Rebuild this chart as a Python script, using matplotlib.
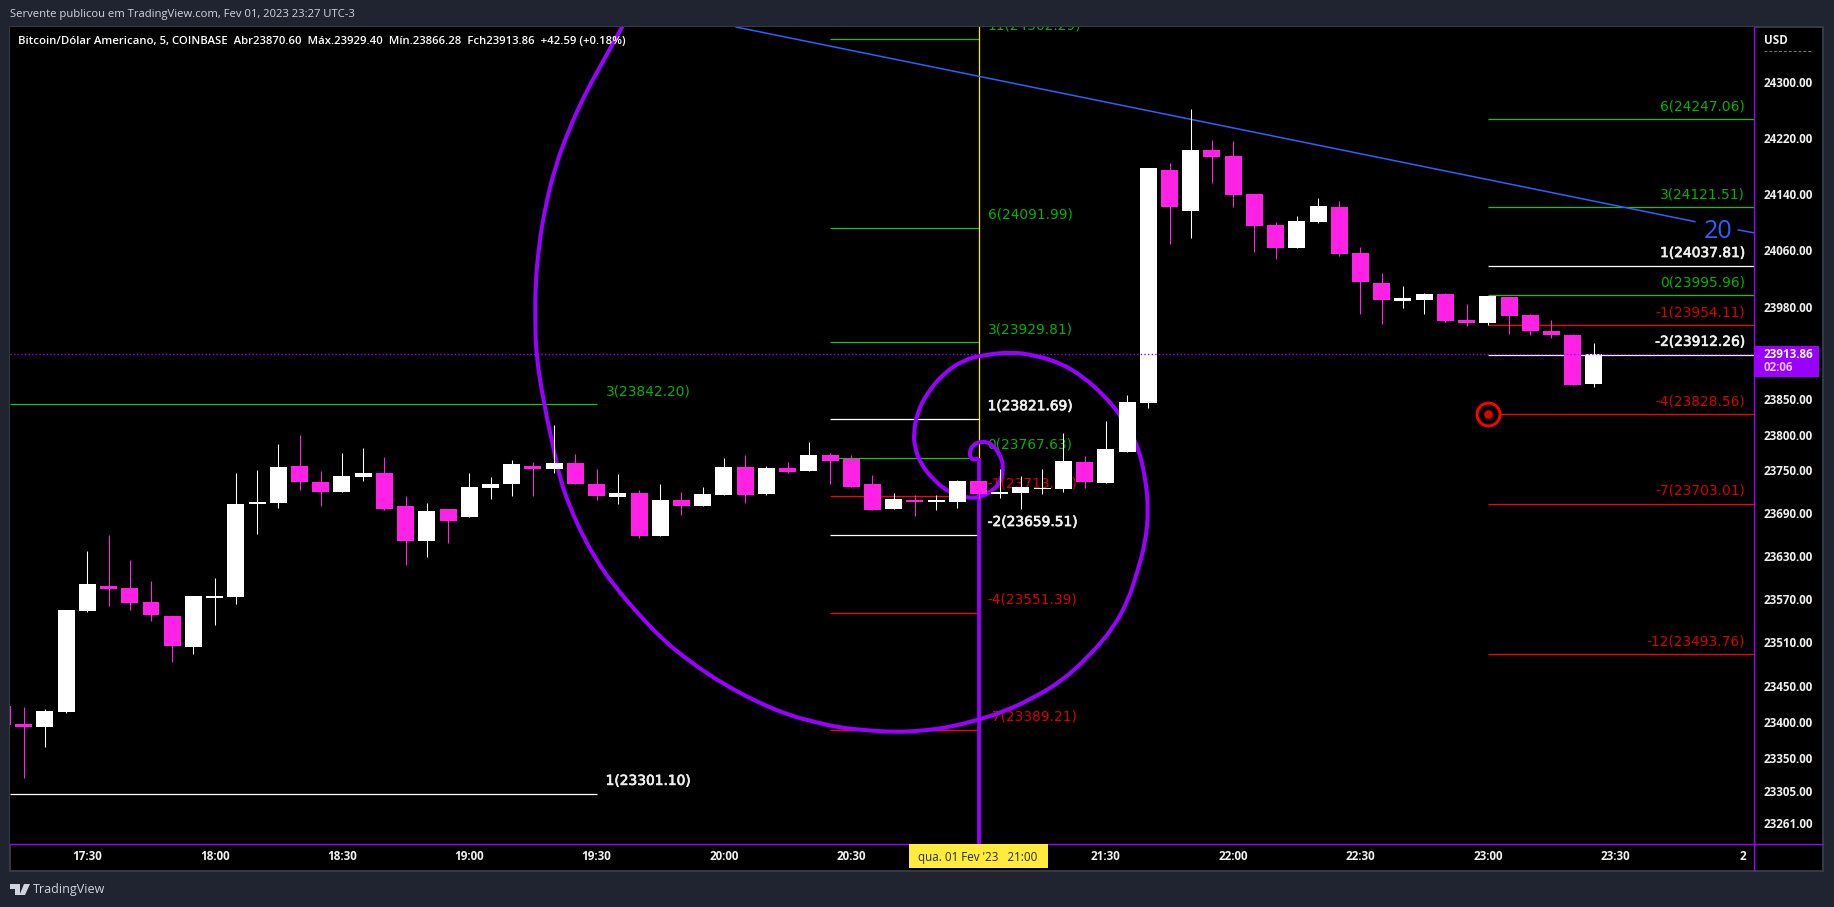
import matplotlib
matplotlib.use('Agg')
import matplotlib.pyplot as plt
import matplotlib.patheffects as pe
from matplotlib.lines import Line2D
from matplotlib.patches import Rectangle, Polygon, PathPatch
from matplotlib.path import Path
from matplotlib.ticker import NullLocator, NullFormatter

W, H = 1834, 907

# Свечи: 5 минут, индекс 0 = 17:30
bar_start = -4
opens = [23422, 23397, 23393, 23414, 23554, 23588, 23586, 23566, 23547, 23503, 23572, 23573, 23703, 23704,
         23756, 23734, 23720, 23741, 23746, 23700, 23651, 23696, 23685, 23725, 23730, 23756, 23752, 23760,
         23731, 23713, 23718, 23658, 23708, 23700, 23715, 23755, 23717, 23753, 23749, 23771, 23766, 23730,
         23696, 23708, 23705, 23705, 23735, 23717, 23718, 23724, 23724, 23762, 23732, 23776, 23844, 24174,
         24116, 24203, 24194, 24140, 24096, 24063, 24100, 24122, 24056, 24014, 23988, 23990, 23998, 23961,
         23957, 23994, 23968, 23946, 23940, 23870.60]
closes = [23396, 23393, 23415, 23555, 23591, 23584, 23565, 23548, 23505, 23574, 23574, 23703, 23706, 23755,
          23734, 23720, 23742, 23746, 23696, 23651, 23693, 23679, 23726, 23731, 23759, 23752, 23760, 23730,
          23714, 23718, 23658, 23708, 23700, 23717, 23755, 23715, 23753, 23748, 23771, 23763, 23727, 23694,
          23710, 23705, 23708, 23735, 23717, 23720, 23726, 23725, 23763, 23734, 23780, 23846, 24177, 24122,
          24203, 24193, 24139, 24095, 24063, 24102, 24123, 24055, 24015, 23990, 23992, 23998, 23960, 23957,
          23995, 23967, 23946, 23940, 23870, 23913.86]
highs = [23422, 23421, 23418, 23555, 23637, 23659, 23625, 23595, 23547, 23574, 23600, 23746, 23750, 23787,
         23800, 23749, 23774, 23781, 23769, 23714, 23704, 23696, 23746, 23741, 23764, 23762, 23814, 23772,
         23752, 23745, 23722, 23731, 23720, 23726, 23767, 23771, 23756, 23762, 23790, 23774, 23771, 23743,
         23718, 23715, 23715, 23736, 23735, 23752, 23742, 23752, 23802, 23770, 23819, 23856, 24177, 24184,
         24261, 24217, 24216, 24140, 24100, 24109, 24134, 24130, 24065, 24028, 24009, 24000, 24000, 23984,
         23995, 23994, 23970, 23961, 23942, 23929.40]
lows = [23396, 23323, 23366, 23412, 23552, 23561, 23555, 23540, 23483, 23494, 23534, 23563, 23661, 23697,
        23722, 23700, 23720, 23735, 23694, 23618, 23629, 23648, 23685, 23710, 23714, 23714, 23746, 23730,
        23708, 23703, 23655, 23658, 23687, 23700, 23715, 23704, 23715, 23746, 23749, 23731, 23727, 23694,
        23696, 23686, 23694, 23697, 23710, 23711, 23696, 23717, 23720, 23725, 23732, 23776, 23837, 24069,
        24078, 24156, 24122, 24058, 24048, 24063, 24099, 24052, 23970, 23956, 23978, 23970, 23959, 23953,
        23954, 23942, 23940, 23936, 23870, 23866.28]

# Уровни: левый, центральный и правый наборы
left_values = ['3', '1']
left_prices = [23842.20, 23301.10]
left_colors = ['green', 'white']

mid_values = ['11', '6', '3', '1', '0', '-1', '-2', '-4', '-7']
mid_prices = [24362.29, 24091.99, 23929.81, 23821.69, 23767.63, 23713.57, 23659.51, 23551.39, 23389.21]
mid_colors = ['green', 'green', 'green', 'white', 'green', 'red', 'white', 'red', 'red']

right_values = ['6', '3', '1', '0', '-1', '-2', '-4', '-7', '-12']
right_prices = [24247.06, 24121.51, 24037.81, 23995.96, 23954.11, 23912.26, 23828.56, 23703.01, 23493.76]
right_colors = ['green', 'green', 'white', 'green', 'red', 'white', 'red', 'red', 'red']

# Спираль Фибоначчи, точки
spiral_x = [42.00, 41.77, 41.55, 41.69, 42.16, 42.63, 43.03, 43.18, 43.07, 42.71, 42.08, 41.46, 40.67, 39.88,
            39.25, 38.99, 38.94, 39.10, 39.57, 40.35, 41.30, 42.24, 43.50, 44.58, 45.85, 46.94, 47.88, 48.68,
            49.47, 49.86, 50.01, 49.86, 49.47, 49.06, 48.35, 47.27, 45.99, 44.58, 43.17, 41.99, 40.67, 39.40,
            38.17, 36.90, 35.49, 34.40, 32.99, 31.39, 29.83, 28.42, 27.14, 25.92, 24.88, 24.08, 23.37, 22.76,
            22.29, 21.99, 21.53, 21.14, 21.11, 21.11, 21.27, 21.58, 22.05, 22.68, 23.47, 24.33, 25.20, 25.59]
spiral_y = [23767, 23763, 23771, 23785, 23791, 23787, 23771, 23755, 23736, 23722, 23712, 23711, 23718, 23736,
            23760, 23783, 23802, 23830, 23858, 23886, 23905, 23912, 23916, 23912, 23901, 23881, 23856, 23828,
            23788, 23741, 23694, 23648, 23607, 23569, 23530, 23493, 23458, 23433, 23414, 23403, 23393, 23388,
            23386, 23388, 23392, 23399, 23410, 23430, 23455, 23483, 23513, 23551, 23587, 23620, 23657, 23697,
            23736, 23778, 23841, 23913, 23961, 24008, 24065, 24122, 24179, 24231, 24284, 24331, 24379, 24400]

trend_x = [30.57, 75.76]
trend_y = [24378.9, 24100.7]
trend2_x = [77.80, 78.56]
trend2_y = [24088.9, 24084.7]

price_ticks = [24300, 24220, 24140, 24060, 23980, 23850, 23800, 23750, 23690, 23630, 23570, 23510, 23450,
               23400, 23350, 23305, 23261]
time_ticks = [0, 6, 12, 18, 24, 30, 36, 48, 54, 60, 66, 72, 78]
time_labels = ['17:30', '18:00', '18:30', '19:00', '19:30', '20:00', '20:30', '21:30', '22:00', '22:30',
               '23:00', '23:30', '2']

last_price = 23913.86
x_min, x_max = -3.645, 78.545
y_min, y_max = 23232.2, 24378.9

BG = '#1f2430'
BORDER = '#363a45'
PURPLE = '#9900ff'
MAGENTA = '#ff22e6'
TEXT_COL = {'green': '#00b400', 'red': '#d80000', 'white': '#eeeeee'}
LINE_COL = {'green': '#1cc01c', 'red': '#ff0000', 'white': '#ffffff'}
LEVEL_FONT = 'DejaVu Sans'
UI_FONT = 'Open Sans'


def fx(px):
    return px / W


def fy(py):
    return 1 - py / H


fig = plt.figure(figsize=(W / 100, H / 100), dpi=100, facecolor=BG)
fig.patches.append(Rectangle((fx(10), fy(871)), fx(1823) - fx(10), fy(27) - fy(871), transform=fig.transFigure,
                             facecolor='black', edgecolor=BORDER, linewidth=1.4, zorder=-1))

ax = fig.add_axes([fx(10), fy(844), fx(1754) - fx(10), fy(27) - fy(844)], facecolor='black')
ax.set_yscale('log')
ax.set_xlim(x_min, x_max)
ax.set_ylim(y_min, y_max)

for name in ['top', 'left']:
    ax.spines[name].set_visible(False)
for name in ['right', 'bottom']:
    ax.spines[name].set_color(PURPLE)
    ax.spines[name].set_linewidth(1.0)
fig.add_artist(Line2D([fx(1754), fx(1823)], [fy(844), fy(844)], color=PURPLE, lw=1.0))
fig.add_artist(Line2D([fx(1754), fx(1754)], [fy(844), fy(871)], color=PURPLE, lw=1.0))

ax.yaxis.tick_right()
ax.set_yticks(price_ticks)
ax.set_yticklabels([f'{p:.2f}' for p in price_ticks], fontname=UI_FONT, fontsize=8.4, color='#f0f0f0',
                   fontweight='bold')
ax.yaxis.set_minor_locator(NullLocator())
ax.yaxis.set_minor_formatter(NullFormatter())
ax.tick_params(axis='y', length=0, pad=7)
ax.set_xticks(time_ticks)
ax.set_xticklabels(time_labels, fontname=UI_FONT, fontsize=8.4, color='#f0f0f0', fontweight='bold')
ax.tick_params(axis='x', length=0, pad=4)


def draw_levels(values, prices, colors, x0, x1, label_x, ha, dx):
    for v, p, c in zip(values, prices, colors):
        ax.plot([x0, x1], [p, p], color=LINE_COL[c], lw=0.9, zorder=2, solid_capstyle='butt')
        t = ax.annotate(f'{v}({p:.2f})', xy=(label_x, p), xytext=(dx, 9.3), textcoords='offset points', ha=ha,
                        va='center', color=TEXT_COL[c], fontsize=9.9, fontname=LEVEL_FONT, zorder=2, clip_on=True)
        if c == 'white':
            t.set_path_effects([pe.withStroke(linewidth=0.5, foreground=TEXT_COL[c])])


draw_levels(left_values, left_prices, left_colors, x_min, 24, 24, 'left', 6.5)
draw_levels(mid_values, mid_prices, mid_colors, 35, 42, 42, 'left', 6.5)
draw_levels(right_values, right_prices, right_colors, 66, x_max, x_max, 'right', -6.5)

# Вертикали и наклонная
ax.plot([42, 42], [mid_prices[4], y_max], color='#ffe81a', lw=0.9, zorder=2)
ax.plot([42, 42], [y_min, mid_prices[4]], color=PURPLE, lw=2.7, zorder=3, solid_capstyle='butt')
ax.plot(trend_x, trend_y, color='#2962ff', lw=1.1, zorder=2)
ax.plot(trend2_x, trend2_y, color='#2962ff', lw=1.1, zorder=2)
ax.text(76.85, 24086, '20', color='#2962ff', fontsize=18, fontname=UI_FONT, ha='center', va='center', zorder=2)

# Сглаживание спирали: считанные точки как контрольные квадратичных кривых
verts = [(spiral_x[0], spiral_y[0])]
codes = [Path.MOVETO]
for k in range(1, len(spiral_x) - 1):
    verts.append((spiral_x[k], spiral_y[k]))
    verts.append(((spiral_x[k] + spiral_x[k + 1]) / 2, (spiral_y[k] + spiral_y[k + 1]) / 2))
    codes += [Path.CURVE3, Path.CURVE3]
verts.append((spiral_x[-1], spiral_y[-1]))
codes.append(Path.LINETO)
ax.add_patch(PathPatch(Path(verts, codes), fill=False, edgecolor=PURPLE, lw=2.9, zorder=3))

# Свечи
for k in range(len(opens)):
    i = bar_start + k
    o, c = opens[k], closes[k]
    col = 'white' if c >= o else MAGENTA
    ax.plot([i, i], [lows[k], highs[k]], color=col, lw=0.75, zorder=4, solid_capstyle='butt')
    ax.bar(i, abs(c - o), bottom=min(o, c), width=0.8, color=col, linewidth=0, zorder=5, antialiased=False)

ax.axhline(last_price, color=PURPLE, lw=1.0, ls=(0, (1, 1.6)), zorder=6)

# Красная мишень
ax.plot([66], [right_prices[6]], marker='o', ms=16.5, mfc='black', mec='#ff0000', mew=2.1, zorder=6)
ax.plot([66], [right_prices[6]], marker='o', ms=6.2, mfc='#e00000', mec='#e00000', mew=0, zorder=7)

# Подпись времени
fig.patches.append(Rectangle((fx(909), fy(868)), fx(1048) - fx(909), fy(844) - fy(868), transform=fig.transFigure,
                             facecolor='#ffeb3b', edgecolor='none', zorder=10))
fig.text(fx(978), fy(858), "qua. 01 Fev '23   21:00", color='#2a2e39', fontsize=8.4, fontname=UI_FONT,
         ha='center', va='center', zorder=11)

# Метка цены
fig.patches.append(Rectangle((fx(1754), fy(377)), 65 / W, 31 / H, transform=fig.transFigure,
                             facecolor=PURPLE, edgecolor='none', zorder=10))
fig.text(fx(1764), fy(355), f'{last_price:.2f}', color='white', fontsize=8.4, fontname=UI_FONT,
         fontweight='bold', va='center', zorder=11)
fig.text(fx(1764), fy(368), '02:06', color='#e0c0ff', fontsize=8.4, fontname=UI_FONT, fontweight='bold',
         va='center', zorder=11)
fig.text(fx(1764), fy(40.5), 'USD', color='#f0f0f0', fontsize=8.4, fontname=UI_FONT, fontweight='bold',
         va='center')
fig.add_artist(Line2D([fx(1764), fx(1812)], [fy(51), fy(51)], color='#777777', lw=0.7, ls=(0, (3, 2))))

# Верхние надписи
fig.text(fx(10), fy(15), 'Servente publicou em TradingView.com, Fev 01, 2023 23:27 UTC-3', color='#d1d4dc',
         fontsize=8.15, fontname=UI_FONT, va='center')
fig.text(fx(18), fy(41.5),
         'Bitcoin/Dólar Americano, 5, COINBASE  Abr23870.60  Máx.23929.40  Mín.23866.28  Fch23913.86  +42.59 (+0.18%)',
         color='white', fontsize=8.2, fontname=UI_FONT, fontweight='semibold', va='center', zorder=12)

# Логотип TradingView
logo = '#d1d4dc'
fig.patches.append(Polygon([(fx(x), fy(y)) for x, y in [(10, 884), (20, 884), (20, 895), (15, 895), (15, 889), (10, 889)]],
                           transform=fig.transFigure, facecolor=logo, edgecolor='none'))
fig.patches.append(Polygon([(fx(x), fy(y)) for x, y in [(24, 884), (30, 884), (25, 895), (19.5, 895)]],
                           transform=fig.transFigure, facecolor=logo, edgecolor='none'))
fig.text(fx(33), fy(889), 'TradingView', color=logo, fontsize=9.0, fontname=UI_FONT, va='center')

fig.savefig('out.png', dpi=100, facecolor=BG)
